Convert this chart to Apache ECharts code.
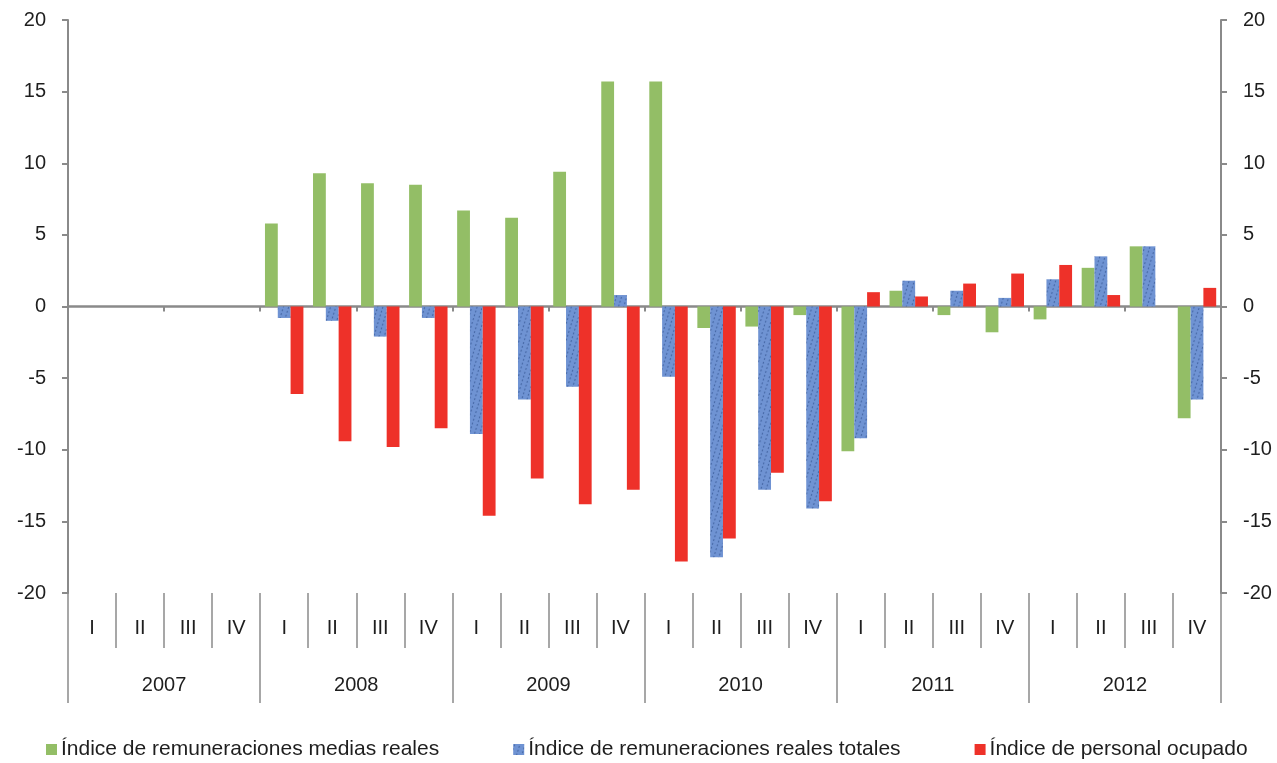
<!DOCTYPE html>
<html>
<head>
<meta charset="utf-8">
<script src="https://cdn.jsdelivr.net/npm/echarts@6/dist/echarts.min.js"></script>
<style>
html,body{margin:0;padding:0;background:#fff;}
#chart{width:1277px;height:763px;}
</style>
</head>
<body>
<div id="chart"></div>
<script>
var years = ['2007','2008','2009','2010','2011','2012'];
var quarters = ['I','II','III','IV'];
var categories = [];
years.forEach(function(y){ quarters.forEach(function(q){ categories.push(q + ' ' + y); }); });
var quarterLabels = [];
years.forEach(function(){ quarters.forEach(function(q){ quarterLabels.push(q); }); });

var seriesNames = ['Índice de remuneraciones medias reales','Índice de remuneraciones reales totales','Índice de personal ocupado'];

var mediasReales = [null,null,null,null, 5.8,9.3,8.6,8.5, 6.7,6.2,9.4,15.7, 15.7,-1.5,-1.4,-0.6, -10.1,1.1,-0.6,-1.8, -0.9,2.7,4.2,-7.8];
var realesTotales = [null,null,null,null, -0.8,-1.0,-2.1,-0.8, -8.9,-6.5,-5.6,0.8, -4.9,-17.5,-12.8,-14.1, -9.2,1.8,1.1,0.6, 1.9,3.5,4.2,-6.5];
var personalOcupado = [null,null,null,null, -6.1,-9.4,-9.8,-8.5, -14.6,-12.0,-13.8,-12.8, -17.8,-16.2,-11.6,-13.6, 1.0,0.7,1.6,2.3, 2.9,0.8,null,1.3];

var yTicks = [-20,-15,-10,-5,0,5,10,15,20];

var FONT = "'Liberation Sans', Arial, sans-serif";
var AX = '#8a8a8a';
var TXT = '#1e1e1e';

var chart = echarts.init(document.getElementById('chart'));
var yAxisCommon = {
  type: 'value', min: yTicks[0], max: yTicks[yTicks.length-1], interval: 5,
  axisLine: {show: true, lineStyle: {color: AX, width: 2}},
  axisTick: {show: true, length: 6, lineStyle: {color: AX, width: 2}},
  splitLine: {show: false},
  axisLabel: {color: TXT, fontSize: 20, fontFamily: FONT, margin: 22}
};
chart.setOption({
  animation: false,
  grid: {left: 68, right: 56, top: 20, bottom: 170, containLabel: false},
  legend: {
    left: 41, top: 734, itemWidth: 11, itemHeight: 11, itemGap: 74, icon: 'rect',
    textStyle: {fontSize: 21, fontFamily: FONT, color: TXT, padding: [0,0,0,-1]},
    data: seriesNames
  },
  xAxis: [
    {
      type: 'category', data: categories, position: 'bottom',
      axisLine: {show: true, onZero: true, lineStyle: {color: AX, width: 2.5}},
      axisTick: {show: true, length: 5, lineStyle: {color: AX, width: 2}},
      axisLabel: {show: false}
    },
    {
      type: 'category', data: quarterLabels, position: 'bottom', offset: 0,
      axisLine: {show: false, onZero: false},
      axisTick: {show: true, length: 55, lineStyle: {color: AX, width: 1.5}},
      axisLabel: {show: true, interval: 0, color: TXT, fontSize: 20, fontFamily: FONT, margin: 25}
    },
    {
      type: 'category', data: years, position: 'bottom', offset: 0,
      axisLine: {show: false, onZero: false},
      axisTick: {show: true, length: 110, lineStyle: {color: AX, width: 1.5}},
      axisLabel: {show: true, interval: 0, color: TXT, fontSize: 20, fontFamily: FONT, margin: 82}
    }
  ],
  yAxis: [
    Object.assign({}, yAxisCommon, {position: 'left'}),
    Object.assign({}, yAxisCommon, {position: 'right'})
  ],
  series: [
    {
      name: seriesNames[0], type: 'bar', data: mediasReales, xAxisIndex: 0, yAxisIndex: 0,
      barGap: '0%', barCategoryGap: '20%',
      itemStyle: {color: '#93BE66'}
    },
    {
      name: seriesNames[1], type: 'bar', data: realesTotales, xAxisIndex: 0, yAxisIndex: 0,
      barGap: '0%', barCategoryGap: '20%',
      itemStyle: {
        color: '#6F93D3',
        decal: {symbol: 'circle', symbolSize: 0.7, color: 'rgba(30,60,120,0.75)', dashArrayX: [[3,2]], dashArrayY: [2,2], rotation: 0.3}
      }
    },
    {
      name: seriesNames[2], type: 'bar', data: personalOcupado, xAxisIndex: 0, yAxisIndex: 0,
      barGap: '0%', barCategoryGap: '20%',
      itemStyle: {color: '#EE3129'}
    }
  ]
});
</script>
</body>
</html>
